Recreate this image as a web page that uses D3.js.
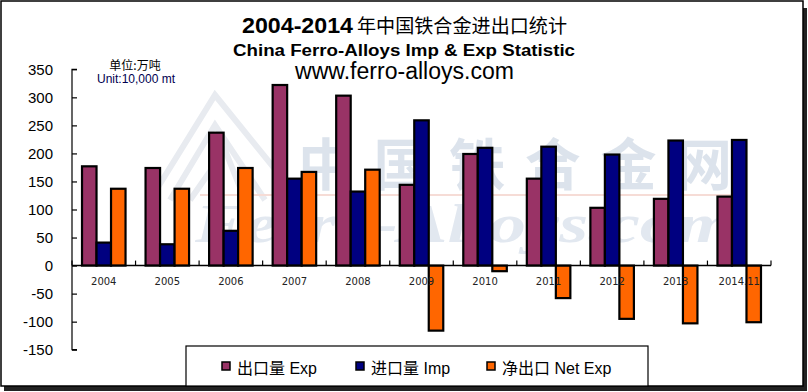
<!DOCTYPE html>
<html><head><meta charset="utf-8">
<script src="https://cdn.jsdelivr.net/npm/d3@7"></script>
<style>body{margin:0;background:#fff}svg{display:block}</style>
</head><body>
<svg id="chart" width="808" height="392"></svg>
<script>
const categories = ["2004","2005","2006","2007","2008","2009","2010","2011","2012","2013","2014.11"];
const exportValues = [177, 174, 237, 322, 303, 144, 199, 155, 103, 119, 123];
const importValues = [41, 38, 62, 155, 132, 259, 210, 212, 198, 223, 224];
const netExportValues = [137, 137, 174, 167, 171, -116, -10, -58, -95, -103, -101];
const yTicks = [350, 300, 250, 200, 150, 100, 50, 0, -50, -100, -150];
const seriesNames = ["出口量 Exp", "进口量 Imp", "净出口 Net Exp"];
const seriesKeys = ["exp", "imp", "net"];
const seriesColors = ["#993366", "#000080", "#FF6600"];

const svg = d3.select("#chart");

// frame with shadow
svg.append("rect").attr("x", 4).attr("y", 8).attr("width", 803).attr("height", 383).attr("fill", "#222");
svg.append("rect").attr("x", 1).attr("y", 1).attr("width", 802).attr("height", 385)
  .attr("fill", "#fff").attr("stroke", "#000").attr("stroke-width", 1.5);

// watermark
const wm = svg.append("g").attr("pointer-events", "none");
wm.append("path").attr("d", "M150,200 L215,95 L300,200 M170,200 L215,125 L265,200 M190,200 L225,150 L245,200")
  .attr("fill", "none").attr("stroke", "#e8ebf0").attr("stroke-width", 6);
wm.append("text").attr("x", 298).attr("y", 185).attr("font-family", "Noto Sans CJK SC")
  .attr("font-weight", "bold").attr("font-size", 56).attr("fill", "#dce3ec")
  .attr("textLength", 434).attr("lengthAdjust", "spacing").text("中国铁合金网");
wm.append("line").attr("x1", 200).attr("x2", 735).attr("y1", 195).attr("y2", 195)
  .attr("stroke", "#f6dcd6").attr("stroke-width", 2);
wm.append("text").attr("x", 195).attr("y", 242).attr("font-family", "Liberation Serif")
  .attr("font-style", "italic").attr("font-weight", "bold").attr("font-size", 54).attr("fill", "#e2e8f0")
  .attr("textLength", 540).attr("lengthAdjust", "spacingAndGlyphs").text("Ferro-Alloys.com");

// titles
const t1 = svg.append("text").attr("y", 33).attr("fill", "#000");
t1.append("tspan").attr("x", 242).attr("font-family", "Liberation Sans").attr("font-weight", "bold")
  .attr("font-size", 22).attr("textLength", 111).attr("lengthAdjust", "spacingAndGlyphs").text("2004-2014");
t1.append("tspan").attr("x", 357).attr("font-family", "Noto Sans CJK SC").attr("font-size", 19)
  .attr("textLength", 210).attr("lengthAdjust", "spacingAndGlyphs").text("年中国铁合金进出口统计");
svg.append("text").attr("x", 233).attr("y", 56).attr("font-family", "Liberation Sans").attr("font-weight", "bold")
  .attr("font-size", 16).attr("textLength", 342).attr("lengthAdjust", "spacingAndGlyphs")
  .text("China Ferro-Alloys Imp & Exp Statistic");
svg.append("text").attr("x", 295).attr("y", 79).attr("font-family", "Liberation Sans")
  .attr("font-size", 23).attr("textLength", 219).attr("lengthAdjust", "spacingAndGlyphs")
  .text("www.ferro-alloys.com");
svg.append("text").attr("x", 135).attr("y", 70).attr("text-anchor", "middle")
  .attr("font-family", "Noto Sans CJK SC").attr("font-size", 12).text("单位:万吨");
svg.append("text").attr("x", 136).attr("y", 83).attr("text-anchor", "middle")
  .attr("font-family", "Liberation Sans").attr("font-size", 12).attr("fill", "#000050").text("Unit:10,000 mt");

// scales
const plotLeft = 72, plotRight = 771;
const y = d3.scaleLinear().domain([-150, 350]).range([349.7, 69.3]);
const x0 = d3.scaleBand().domain(categories).range([plotLeft, plotRight]).padding(0);
const x1 = d3.scaleBand().domain(seriesKeys).range([0, x0.bandwidth()]).paddingInner(0).paddingOuter(0.69);

const data = categories.map((c, i) => ({cat: c, exp: exportValues[i], imp: importValues[i], net: netExportValues[i]}));

// bars
const groups = svg.append("g").selectAll("g").data(data).join("g")
  .attr("transform", d => `translate(${x0(d.cat)},0)`);
groups.selectAll("rect").data(d => seriesKeys.map((k, j) => ({k, v: d[k], color: seriesColors[j]})))
  .join("rect")
  .attr("x", d => x1(d.k))
  .attr("width", x1.bandwidth())
  .attr("y", d => y(Math.max(0, d.v)))
  .attr("height", d => Math.abs(y(d.v) - y(0)))
  .attr("fill", d => d.color)
  .attr("stroke", "#000").attr("stroke-width", 2.2);

// y axis
const yAxis = svg.append("g").attr("transform", `translate(${plotLeft},0)`)
  .call(d3.axisRight(y).tickValues(yTicks).tickSize(5).tickFormat(""));
yAxis.select(".domain").attr("d", `M5,${y(350)}H0V${y(-150)}H5`).attr("stroke", "#000").attr("stroke-width", 1.2);
yAxis.selectAll("line").attr("stroke", "#000").attr("stroke-width", 1.2);
svg.append("g").selectAll("text").data(yTicks).join("text")
  .attr("x", 53).attr("y", d => y(d)).attr("dy", "0.36em").attr("text-anchor", "end")
  .attr("font-family", "Liberation Sans").attr("font-size", 15).attr("fill", "#000")
  .text(d => d);

// x axis (zero line)
const boundaries = categories.map(c => x0(c)).concat([plotRight]);
const xAxis = svg.append("g").attr("transform", `translate(0,${y(0)})`);
xAxis.append("line").attr("x1", plotLeft).attr("x2", plotRight).attr("stroke", "#000").attr("stroke-width", 1.5);
xAxis.selectAll("line.tk").data(boundaries).join("line").attr("class", "tk")
  .attr("x1", d => d).attr("x2", d => d).attr("y1", 0).attr("y2", -5)
  .attr("stroke", "#000").attr("stroke-width", 1.2);
svg.append("g").selectAll("text").data(categories).join("text")
  .attr("x", d => x0(d) + x0.bandwidth() / 2).attr("y", 285).attr("text-anchor", "middle")
  .attr("font-family", "DejaVu Sans").attr("font-size", 10).attr("fill", "#222")
  .text(d => d);

// legend
svg.append("rect").attr("x", 186).attr("y", 346).attr("width", 462).attr("height", 40)
  .attr("fill", "#fff").attr("stroke", "#000").attr("stroke-width", 1.2);
const legendX = [222, 356, 487];
const lg = svg.append("g").selectAll("g").data(seriesNames).join("g")
  .attr("transform", (d, i) => `translate(${legendX[i]},362)`);
lg.append("rect").attr("width", 8).attr("height", 8).attr("fill", (d, i) => seriesColors[i])
  .attr("stroke", "#000").attr("stroke-width", 1.5);
lg.append("text").attr("x", 15).attr("y", 12).attr("font-family", "Liberation Sans, Noto Sans CJK SC")
  .attr("font-size", 16).attr("fill", "#000")
  .text(d => d);
</script>
</body></html>
